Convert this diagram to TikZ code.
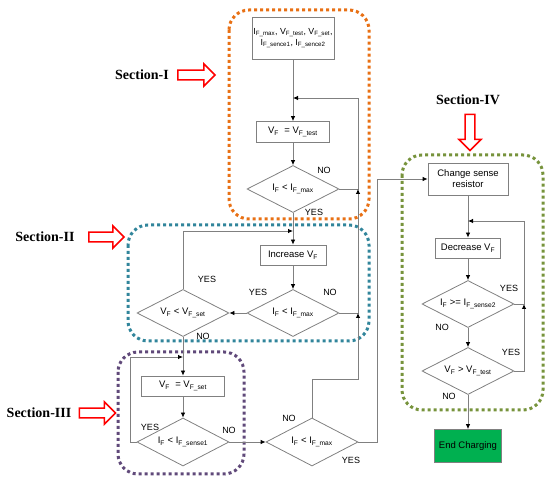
\documentclass[tikz,border=0pt]{standalone}
\usepackage{fontspec}
\usepackage{tikz}
\usetikzlibrary{arrows.meta,positioning,shapes.geometric,shapes.arrows}
\newfontfamily\flowfont{Liberation Sans}
\newfontfamily\secfont{Liberation Serif}
\definecolor{linegray}{RGB}{128,128,128}
\definecolor{orangedot}{RGB}{232,112,20}
\definecolor{tealdot}{RGB}{49,133,155}
\definecolor{purpledot}{RGB}{96,73,122}
\definecolor{greendot}{RGB}{119,147,60}
\definecolor{endgreen}{RGB}{0,176,80}
\newcommand{\subF}[1]{\textsubscript{#1}}

\begin{document}
\begin{tikzpicture}[x=1pt, y=-1pt,
    every node/.style={font=\flowfont\fontsize{9.5}{11}\selectfont},
    procbox/.style={draw=linegray, line width=0.8pt, align=center, inner sep=1pt},
    decision/.style={diamond, draw=linegray, line width=0.8pt, aspect=2, inner sep=0pt,
      minimum width=92pt, minimum height=47pt},
    arr/.style={draw=linegray, line width=0.8pt, -{Latex[length=5pt,width=4.5pt,black]}},
    lbl/.style={font=\flowfont\fontsize{9}{10}\selectfont},
    sectxt/.style={font=\secfont\bfseries\fontsize{14}{16}\selectfont},
    secarrow/.style={single arrow, draw=red, line width=1.6pt, fill=white, inner sep=4pt,
      minimum width=22pt, single arrow head extend=6pt},
    sectionbox/.style={line width=3pt, dash pattern=on 3pt off 3pt, rounded corners=20pt}]
  \useasboundingbox (0,0) rectangle (550,484);

  % Section frames
  \draw[sectionbox, orangedot] (229,10) rectangle (369,219);
  \draw[sectionbox, tealdot] (128,225) rectangle (369,341);
  \draw[sectionbox, purpledot] (118,352) rectangle (244,474);
  \draw[sectionbox, greendot] (402,155) rectangle (543,410);

  % Section labels
  \foreach \s/\x/\y/\ax/\len in {I/142/75/194/37, II/45/237/104/35, III/39/413/95/36} {
    \node[sectxt] (sec\s) at (\x,\y) {Section-\s};
    \node[secarrow, minimum height=\len pt] (arr\s) at (\ax,\y) {};
  }
  \node[sectxt] (secIV) at (468,100) {Section-IV};
  \node[secarrow, minimum height=36pt, rotate=-90] (arrIV) at (470,130) {};

  % Section I
  \node[procbox, minimum width=82pt, minimum height=42pt, font=\flowfont\fontsize{8.8}{11}\selectfont]
    (init) at (293,38) {I\subF{F\_max}, V\subF{F\_test}, V\subF{F\_set},\\I\subF{F\_sence1}, I\subF{F\_sence2}};
  \node[procbox, minimum width=73pt, minimum height=21pt] (vtest) at (293,132) {V\subF{F}\ \ = V\subF{F\_test}};
  \node[decision] (chkA) at (293,189) {I\subF{F} < I\subF{F\_max}};

  % Section II
  \node[procbox, minimum width=66pt, minimum height=20pt] (incv) at (293,255) {Increase V\subF{F}};
  \node[decision] (chkB) at (293,313) {I\subF{F} < I\subF{F\_max}};
  \node[decision] (chkC) at (183,313) {V\subF{F} < V\subF{F\_set}};

  % Section III
  \node[procbox, minimum width=83pt, minimum height=20pt] (vset) at (183,386) {V\subF{F}\ \ = V\subF{F\_set}};
  \node[decision, minimum height=48pt] (chkD) at (183,442) {I\subF{F} < I\subF{F\_sense1}};
  \node[decision, minimum height=48pt] (chkE) at (312,442) {I\subF{F} < I\subF{F\_max}};

  % Section IV
  \node[procbox, minimum width=80pt, minimum height=32pt] (csr) at (468,179) {Change sense\\resistor};
  \node[procbox, minimum width=65pt, minimum height=20pt] (decv) at (468,248) {Decrease V\subF{F}};
  \node[decision] (chkF) at (468,304) {I\subF{F} >= I\subF{F\_sense2}};
  \node[decision] (chkG) at (468,371) {V\subF{F} > V\subF{F\_test}};
  \node[procbox, fill=endgreen, minimum width=67pt, minimum height=33pt] (endc) at (468,446) {End Charging};

  % Junctions
  \coordinate (j1) at (293,98);
  \coordinate (j2) at (293,231);
  \coordinate (j3) at (183,357);
  \coordinate (j4) at (468,221);
  \coordinate (mA) at (358,189);
  \coordinate (mB) at (358,313);
  \coordinate (mE) at (358,379);
  \coordinate (mR) at (377,442);
  \coordinate (mD) at (130,442);
  \coordinate (mF) at (524,304);

  % Connectors
  \draw[arr] (init) -- (vtest);
  \draw[arr] (vtest) -- (chkA);
  \draw[arr] (chkA.east) -- (mA) |- (j1);
  \draw[arr] (chkA) -- (incv);
  \draw[arr] (incv) -- (chkB);
  \draw[arr] (chkB.east) -- (mB) -- (mA);
  \draw[arr] (chkB.west) -- (chkC.east);
  \draw[arr] (chkC.north) |- (j2);
  \draw[arr] (chkC) -- (vset);
  \draw[arr] (vset) -- (chkD);
  \draw[arr] (chkD.west) -- (mD) |- (j3);
  \draw[arr] (chkD.east) -- (chkE.west);
  \draw[arr] (chkE.north) |- (mE) -- (mB);
  \draw[arr] (chkE.east) -- (mR) |- (csr.west);
  \draw[arr] (csr) -- (decv);
  \draw[arr] (decv) -- (chkF);
  \draw[arr] (chkF) -- (chkG);
  \draw[arr] (chkG.east) -| (mF);
  \draw[arr] (chkF.east) -- (mF) |- (j4);
  \draw[arr] (chkG) -- (endc);

  % Branch labels
  \foreach \t/\x/\y [count=\i] in {NO/324/170, YES/314/212, YES/258/292, NO/330/292,
      YES/207/279, NO/203/336, YES/150/427, NO/229/430, NO/289/418, YES/351/460,
      YES/509/288, NO/442/327, YES/511/352, NO/449/396} {
    \node[lbl] (lab\i) at (\x,\y) {\t};
  }
\end{tikzpicture}
\end{document}
